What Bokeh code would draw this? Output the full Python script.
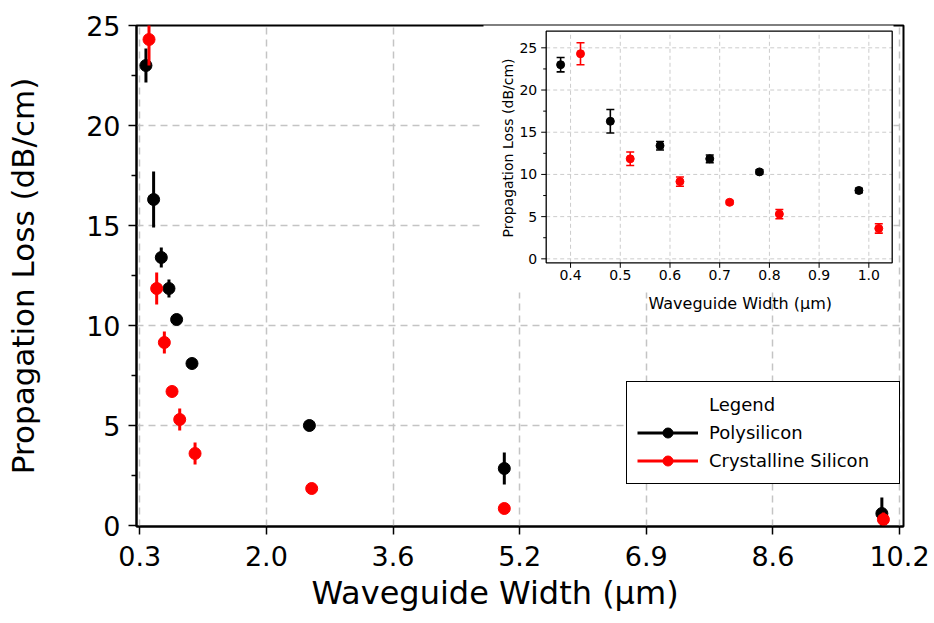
import math
from bokeh.plotting import figure
from bokeh.models import ColumnDataSource, Range1d, FixedTicker, Legend, LegendItem, Title
from bokeh.core.properties import value
from bokeh.embed import file_html
from bokeh.resources import INLINE

FONT = "DejaVu Sans"
BLACK = "#000000"
RED = "#ff0000"

# ---------------- data ----------------
poly_width = [0.38, 0.48, 0.58, 0.68, 0.78, 0.98]
poly_loss = [23.0, 16.3, 13.4, 11.85, 10.3, 8.1]
poly_err = [0.85, 1.4, 0.5, 0.45, 0.25, 0.25]

cryst_width = [0.42, 0.52, 0.62, 0.72, 0.82, 1.02]
cryst_loss = [24.3, 11.85, 9.15, 6.7, 5.3, 3.6]
cryst_err = [1.3, 0.8, 0.55, 0.2, 0.55, 0.55]

poly_width_wide = [2.51, 5.05, 9.97]
poly_loss_wide = [5.0, 2.85, 0.6]
poly_err_wide = [0.15, 0.8, 0.8]

cryst_width_wide = [2.54, 5.05, 9.99]
cryst_loss_wide = [1.85, 0.85, 0.3]
cryst_err_wide = [0.1, 0.1, 0.35]

main_xticks = [0.3, 1.95, 3.6, 5.25, 6.9, 8.55, 10.2]
main_xlabels = ["0.3", "2.0", "3.6", "5.2", "6.9", "8.6", "10.2"]
main_yticks = [0, 5, 10, 15, 20, 25]
main_yminor = [2.5, 7.5, 12.5, 17.5, 22.5]
main_ygrid = [5, 10, 15, 20]

inset_xticks = [0.4, 0.5, 0.6, 0.7, 0.8, 0.9, 1.0]
inset_xlabels = ["0.4", "0.5", "0.6", "0.7", "0.8", "0.9", "1.0"]
inset_yticks = [0, 5, 10, 15, 20, 25]
inset_ylabels = ["0", "5", "10", "15", "20", "25"]
inset_yminor = [2.5, 7.5, 12.5, 17.5, 22.5]

# ---------------- layout (pixels) ----------------
FRAME_W, FRAME_H = 767, 501
X_MAIN = (0.257, 10.252)
Y_MAIN = (-0.05, 25.0)

# inset frame box in px relative to main frame (left, right, top, bottom)
IN_BOX = (409.7, 755.7, 5.7, 237.3)
IN_X = (0.351, 1.047)
IN_Y = (-0.47, 26.97)
ippx = (IN_BOX[1] - IN_BOX[0]) / (IN_X[1] - IN_X[0])
ippy = (IN_BOX[3] - IN_BOX[2]) / (IN_Y[1] - IN_Y[0])
ix0 = IN_X[0] - IN_BOX[0] / ippx
ix1 = ix0 + FRAME_W / ippx
iy1 = IN_Y[1] + IN_BOX[2] / ippy
iy0 = iy1 - FRAME_H / ippy


def ix(px):
    return ix0 + px / ippx


def iy(py):
    return iy1 - py / ippy


p = figure(frame_width=FRAME_W, frame_height=FRAME_H,
           min_border_left=136, min_border_top=25, min_border_right=29, min_border_bottom=95,
           x_range=Range1d(*X_MAIN), y_range=Range1d(*Y_MAIN),
           output_backend="svg", toolbar_location=None, title=None)
p.extra_x_ranges = {"ix": Range1d(ix0, ix1)}
p.extra_y_ranges = {"iy": Range1d(iy0, iy1)}
R = dict(x_range_name="ix", y_range_name="iy")

p.background_fill_color = "white"
p.border_fill_color = "white"
p.outline_line_color = BLACK
p.outline_line_width = 2
p.outline_line_alpha = 1

# grid
p.xgrid.ticker = FixedTicker(ticks=main_xticks)
p.ygrid.ticker = FixedTicker(ticks=main_ygrid)
p.grid.grid_line_color = "#c4c4c4"
p.grid.grid_line_dash = "7 5"
p.grid.grid_line_width = 1.5

# axes
p.xaxis.ticker = FixedTicker(ticks=main_xticks, minor_ticks=[])
p.xaxis.major_label_overrides = dict(zip(main_xticks, main_xlabels))
p.yaxis.ticker = FixedTicker(ticks=main_yticks, minor_ticks=main_yminor)
for ax in p.axis:
    ax.axis_line_color = BLACK
    ax.axis_line_width = 2
    ax.major_tick_line_color = BLACK
    ax.major_tick_line_width = 1.5
    ax.major_tick_out = 8
    ax.major_tick_in = 0
    ax.minor_tick_line_color = BLACK
    ax.minor_tick_line_width = 1.5
    ax.minor_tick_out = 5
    ax.minor_tick_in = 0
    ax.major_label_text_font = FONT
    ax.major_label_text_font_size = "27px"
    ax.major_label_text_color = BLACK
p.yaxis.major_label_standoff = 8
p.xaxis.major_label_standoff = 11

p.yaxis.axis_label = "Propagation Loss (dB/cm)"
p.yaxis.axis_label_text_font = FONT
p.yaxis.axis_label_text_font_size = "31px"
p.yaxis.axis_label_text_font_style = "normal"
p.yaxis.axis_label_text_color = BLACK
p.yaxis.axis_label_standoff = 42

p.add_layout(Title(text="Waveguide Width (µm)", align="left", offset=175, standoff=6,
                   vertical_align="bottom", text_font=FONT, text_font_size="32px",
                   text_font_style="normal", text_color=BLACK), "below")

# inset background (covers the main grid)
p.quad(left=[ix(347)], right=[ix(757)], top=[iy(-3)], bottom=[iy(267)],
       fill_color="white", line_color=None, **R)

# ---------------- main plot ----------------
poly_src = ColumnDataSource(dict(
    w=poly_width + poly_width_wide,
    loss=poly_loss + poly_loss_wide,
    lo=[v - e for v, e in zip(poly_loss + poly_loss_wide, poly_err + poly_err_wide)],
    hi=[v + e for v, e in zip(poly_loss + poly_loss_wide, poly_err + poly_err_wide)],
))
cryst_src = ColumnDataSource(dict(
    w=cryst_width + cryst_width_wide,
    loss=cryst_loss + cryst_loss_wide,
    lo=[v - e for v, e in zip(cryst_loss + cryst_loss_wide, cryst_err + cryst_err_wide)],
    hi=[v + e for v, e in zip(cryst_loss + cryst_loss_wide, cryst_err + cryst_err_wide)],
))

p.segment(x0="w", y0="lo", x1="w", y1="hi", source=poly_src, line_color=BLACK, line_width=3)
poly_sc = p.scatter("w", "loss", source=poly_src, size=12, fill_color=BLACK, line_color=BLACK)
p.segment(x0="w", y0="lo", x1="w", y1="hi", source=cryst_src, line_color=RED, line_width=3)
cryst_sc = p.scatter("w", "loss", source=cryst_src, size=12, fill_color=RED, line_color=RED)

# legend-only line renderers (hidden in the plot)
poly_line = p.line("w", "loss", source=poly_src, line_color=BLACK, line_width=3, visible=False)
cryst_line = p.line("w", "loss", source=cryst_src, line_color=RED, line_width=3, visible=False)

# ---------------- inset ----------------
p.segment(x0=inset_xticks, y0=[IN_Y[0]] * len(inset_xticks), x1=inset_xticks, y1=[IN_Y[1]] * len(inset_xticks),
          line_color="#cccccc", line_dash="4 3", line_width=1, **R)
p.segment(x0=[IN_X[0]] * len(inset_yticks), y0=inset_yticks, x1=[IN_X[1]] * len(inset_yticks), y1=inset_yticks,
          line_color="#cccccc", line_dash="4 3", line_width=1, **R)

cap = 4.0 / ippx
for wl, ls, es, col in [(poly_width, poly_loss, poly_err, BLACK), (cryst_width, cryst_loss, cryst_err, RED)]:
    lo = [v - e for v, e in zip(ls, es)]
    hi = [v + e for v, e in zip(ls, es)]
    p.segment(x0=wl, y0=lo, x1=wl, y1=hi, line_color=col, line_width=1.6, **R)
    p.segment(x0=[w - cap for w in wl], y0=lo, x1=[w + cap for w in wl], y1=lo, line_color=col, line_width=1.6, **R)
    p.segment(x0=[w - cap for w in wl], y0=hi, x1=[w + cap for w in wl], y1=hi, line_color=col, line_width=1.6, **R)
    p.scatter(x=wl, y=ls, size=8, fill_color=col, line_color=col, **R)

p.quad(left=[IN_X[0]], right=[IN_X[1]], bottom=[IN_Y[0]], top=[IN_Y[1]],
       fill_color=None, line_color=BLACK, line_width=1.3, **R)

tk = 5.0
p.segment(x0=inset_xticks, y0=[IN_Y[0]] * len(inset_xticks), x1=inset_xticks,
          y1=[IN_Y[0] - tk / ippy] * len(inset_xticks), line_color=BLACK, line_width=1, **R)
p.segment(x0=[IN_X[0]] * len(inset_yticks), y0=inset_yticks, x1=[IN_X[0] - tk / ippx] * len(inset_yticks),
          y1=inset_yticks, line_color=BLACK, line_width=1, **R)
p.segment(x0=[IN_X[0]] * len(inset_yminor), y0=inset_yminor, x1=[IN_X[0] - 3.0 / ippx] * len(inset_yminor),
          y1=inset_yminor, line_color=BLACK, line_width=1, **R)

p.text(x=inset_xticks, y=[IN_Y[0] - (tk + 2.5) / ippy] * len(inset_xticks), text=inset_xlabels,
       text_font=value(FONT), text_font_size="14px", text_color=BLACK,
       text_align="center", text_baseline="top", **R)
p.text(x=[IN_X[0] - (tk + 4) / ippx] * len(inset_yticks), y=inset_yticks, text=inset_ylabels,
       text_font=value(FONT), text_font_size="14px", text_color=BLACK,
       text_align="right", text_baseline="middle", **R)

p.text(x=[ix(603.8)], y=[iy(277.7)], text=["Waveguide Width (µm)"],
       text_font=value(FONT), text_font_size="16px", text_color=BLACK,
       text_align="center", text_baseline="alphabetic", **R)
p.text(x=[ix(371.2)], y=[iy(122.5)], text=["Propagation Loss (dB/cm)"], angle=math.pi / 2,
       text_font=value(FONT), text_font_size="14px", text_color=BLACK,
       text_align="center", text_baseline="alphabetic", **R)

# ---------------- legend ----------------
title_dummy = p.scatter(x=[], y=[], alpha=0)
legend = Legend(items=[
    LegendItem(label="Legend", renderers=[title_dummy]),
    LegendItem(label="Polysilicon", renderers=[poly_line, poly_sc]),
    LegendItem(label="Crystalline Silicon", renderers=[cryst_line, cryst_sc]),
], location=(490, 42), orientation="vertical",
    border_line_color=BLACK, border_line_width=1.5, border_line_alpha=1,
    background_fill_color="white", background_fill_alpha=1,
    label_text_font=FONT, label_text_font_size="18px", label_text_color=BLACK,
    padding=10, spacing=3, glyph_width=61, glyph_height=25, label_height=25,
    label_width=180, label_standoff=11, margin=0)
p.add_layout(legend)

open("out.html", "w").write(file_html(p, INLINE))
